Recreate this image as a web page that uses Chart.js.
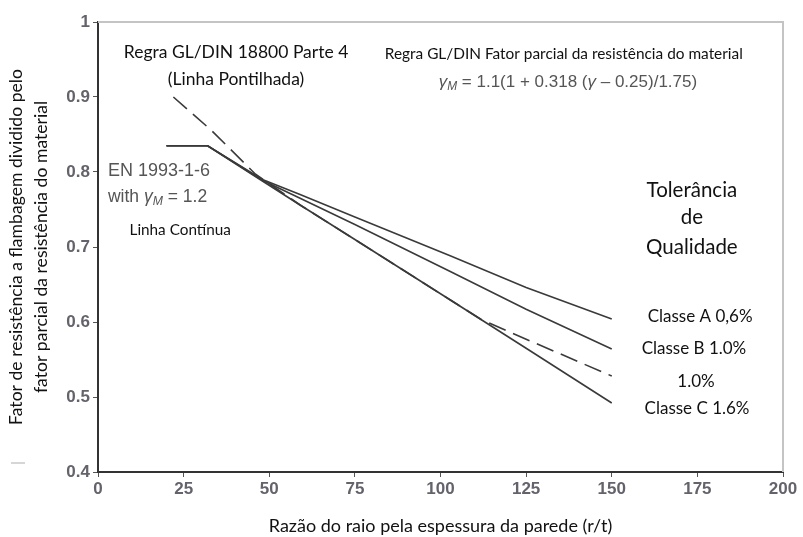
<!DOCTYPE html>
<html>
<head>
<meta charset="utf-8">
<script src="https://cdn.jsdelivr.net/npm/chart.js@4.4.1/dist/chart.umd.min.js"></script>
<style>
    html, body { margin: 0; padding: 0; background: #fff; }
    #wrap { width: 803px; height: 537px; }
</style>
</head>
<body>
<div id="wrap"><canvas id="chart"></canvas></div>
<script>
// r/t values for the EN 1993-1-6 curves (solid) and the GL/DIN curve (dashed)
const enRatio = [20, 32, 48, 59, 75, 103, 125, 150];
const classA = [0.835, 0.835, 0.790, 0.770, 0.740, 0.688, 0.646, 0.604];
const classB = [0.835, 0.835, 0.789, 0.765, 0.730, 0.667, 0.617, 0.564];
const classC = [0.835, 0.835, 0.788, 0.756, 0.710, 0.629, 0.565, 0.492];
const dinRatio = [22, 33, 46, 59, 75, 103, 112, 125, 150];
const dinValues = [0.900, 0.856, 0.797, 0.756, 0.710, 0.629, 0.603, 0.577, 0.528];

const xTicks = [0, 25, 50, 75, 100, 125, 150, 175, 200];
const yTicks = [0.4, 0.5, 0.6, 0.7, 0.8, 0.9, 1];

const CALIBRI = 'Lato, "Open Sans", sans-serif';
const ARIAL = '"Liberation Sans", Arial, sans-serif';

// text placed on the chart, positioned in data units
const notes = [
    { text: 'Regra GL/DIN 18800 Parte 4', x: 40.3, y: 0.960, size: 17.5, font: CALIBRI, color: '#111', align: 'center' },
    { text: '(Linha Pontilhada)', x: 40.3, y: 0.924, size: 17.5, font: CALIBRI, color: '#111', align: 'center' },
    { text: 'Regra GL/DIN Fator parcial da resistência do material', x: 136, y: 0.957, size: 15.4, font: CALIBRI, color: '#111', align: 'center' },
    { text: 'EN 1993-1-6', x: 2.9, y: 0.801, size: 18, font: ARIAL, color: '#555', align: 'left' },
    { text: 'Linha Contínua', x: 24, y: 0.723, size: 15.3, font: CALIBRI, color: '#111', align: 'center' },
    { text: 'Tolerância', x: 173.4, y: 0.776, size: 20.5, font: CALIBRI, color: '#111', align: 'center' },
    { text: 'de', x: 173.4, y: 0.739, size: 20.5, font: CALIBRI, color: '#111', align: 'center' },
    { text: 'Qualidade', x: 173.4, y: 0.700, size: 20.5, font: CALIBRI, color: '#111', align: 'center' },
    { text: 'Classe A 0,6%', x: 175.8, y: 0.607, size: 17, font: CALIBRI, color: '#111', align: 'center' },
    { text: 'Classe B 1.0%', x: 174, y: 0.564, size: 17, font: CALIBRI, color: '#111', align: 'center' },
    { text: '1.0%', x: 174.6, y: 0.520, size: 17, font: CALIBRI, color: '#111', align: 'center' },
    { text: 'Classe C 1.6%', x: 174.9, y: 0.484, size: 17, font: CALIBRI, color: '#111', align: 'center' }
];

function pts(xs, ys) {
    return xs.map((x, i) => ({ x: x, y: ys[i] }));
}

// draws a run of text pieces: [text, italic, subscript]
function drawRuns(ctx, runs, x, y, size, color, align) {
    const fontFor = (r) => (r[1] ? 'italic ' : '') + (r[2] ? size * 0.7 : size) + 'px ' + ARIAL;
    let total = 0;
    runs.forEach(r => { ctx.font = fontFor(r); total += ctx.measureText(r[0]).width; });
    let cx = align === 'center' ? x - total / 2 : x;
    ctx.fillStyle = color;
    ctx.textAlign = 'left';
    ctx.textBaseline = 'middle';
    runs.forEach(r => {
        ctx.font = fontFor(r);
        ctx.fillText(r[0], cx, r[2] ? y + size * 0.3 : y);
        cx += ctx.measureText(r[0]).width;
    });
}

const notesPlugin = {
    id: 'notes',
    afterDraw(chart) {
        const ctx = chart.ctx;
        const xs = chart.scales.x, ys = chart.scales.y;
        const area = chart.chartArea;
        ctx.save();
        // light frame on top and right
        ctx.strokeStyle = '#c4c4c4';
        ctx.lineWidth = 2;
        ctx.beginPath();
        ctx.moveTo(area.left, area.top);
        ctx.lineTo(area.right, area.top);
        ctx.lineTo(area.right, area.bottom);
        ctx.stroke();

        // stray scan mark left of the axis
        ctx.strokeStyle = '#c8c8c8';
        ctx.lineWidth = 1.5;
        ctx.beginPath();
        ctx.moveTo(11, 463);
        ctx.lineTo(25, 463);
        ctx.stroke();

        notes.forEach(n => {
            ctx.font = n.size + 'px ' + n.font;
            ctx.fillStyle = n.color;
            ctx.textAlign = n.align;
            ctx.textBaseline = 'middle';
            ctx.fillText(n.text, xs.getPixelForValue(n.x), ys.getPixelForValue(n.y));
        });

        drawRuns(ctx, [['γ', true, false], ['M', true, true], [' = 1.1(1 + 0.318 (', false, false],
            ['γ', true, false], [' – 0.25)/1.75)', false, false]],
            xs.getPixelForValue(137.2), ys.getPixelForValue(0.92), 17, '#555', 'center');
        drawRuns(ctx, [['with ', false, false], ['γ', true, false], ['M', true, true], [' = 1.2', false, false]],
            xs.getPixelForValue(2.9), ys.getPixelForValue(0.767), 17.5, '#555', 'left');
        ctx.restore();
    }
};

const lineStyle = {
    borderColor: '#3a3a3a',
    borderWidth: 1.6,
    pointRadius: 0,
    tension: 0,
    fill: false
};

const tickFont = { family: ARIAL, size: 17, weight: 'bold' };

new Chart(document.getElementById('chart'), {
    type: 'line',
    data: {
        datasets: [
            Object.assign({ label: 'Classe A 0,6%', data: pts(enRatio, classA) }, lineStyle),
            Object.assign({ label: 'Classe B 1.0%', data: pts(enRatio, classB) }, lineStyle),
            Object.assign({ label: 'Classe C 1.6%', data: pts(enRatio, classC) }, lineStyle),
            Object.assign({ label: 'GL/DIN 18800 1.0%', data: pts(dinRatio, dinValues) }, lineStyle, { borderDash: [18, 8] })
        ]
    },
    options: {
        responsive: true,
        maintainAspectRatio: false,
        animation: false,
        layout: { padding: { top: 22, right: 20, left: 0, bottom: 0 } },
        plugins: {
            legend: { display: false },
            tooltip: { enabled: false }
        },
        scales: {
            x: {
                type: 'linear',
                min: 0,
                max: 200,
                afterBuildTicks: (scale) => { scale.ticks = xTicks.map(v => ({ value: v })); },
                afterFit: (scale) => { scale.height = 65; },
                border: { color: '#333', width: 2 },
                grid: { drawOnChartArea: false, tickLength: 5, color: '#555' },
                ticks: { color: '#63636b', font: tickFont, padding: 2 },
                title: {
                    display: true,
                    text: 'Razão do raio pela espessura da parede (r/t)',
                    color: '#111',
                    font: { family: CALIBRI, size: 18 },
                    padding: { top: 8, bottom: 0 }
                }
            },
            y: {
                type: 'linear',
                min: 0.4,
                max: 1,
                afterBuildTicks: (scale) => { scale.ticks = yTicks.map(v => ({ value: v })); },
                afterFit: (scale) => { scale.width = 98; },
                border: { color: '#333', width: 2 },
                grid: { drawOnChartArea: false, tickLength: 5, color: '#555' },
                ticks: {
                    color: '#63636b',
                    font: tickFont,
                    padding: 3,
                    callback: (v) => String(Number(v.toFixed(1)))
                },
                title: {
                    display: true,
                    text: ['Fator de resistência a flambagem dividido pelo', 'fator parcial da resistência do material'],
                    color: '#111',
                    font: { family: CALIBRI, size: 17.6, lineHeight: 1.42 },
                    padding: { top: 4, bottom: 0 }
                }
            }
        }
    },
    plugins: [notesPlugin]
});
</script>
</body>
</html>
